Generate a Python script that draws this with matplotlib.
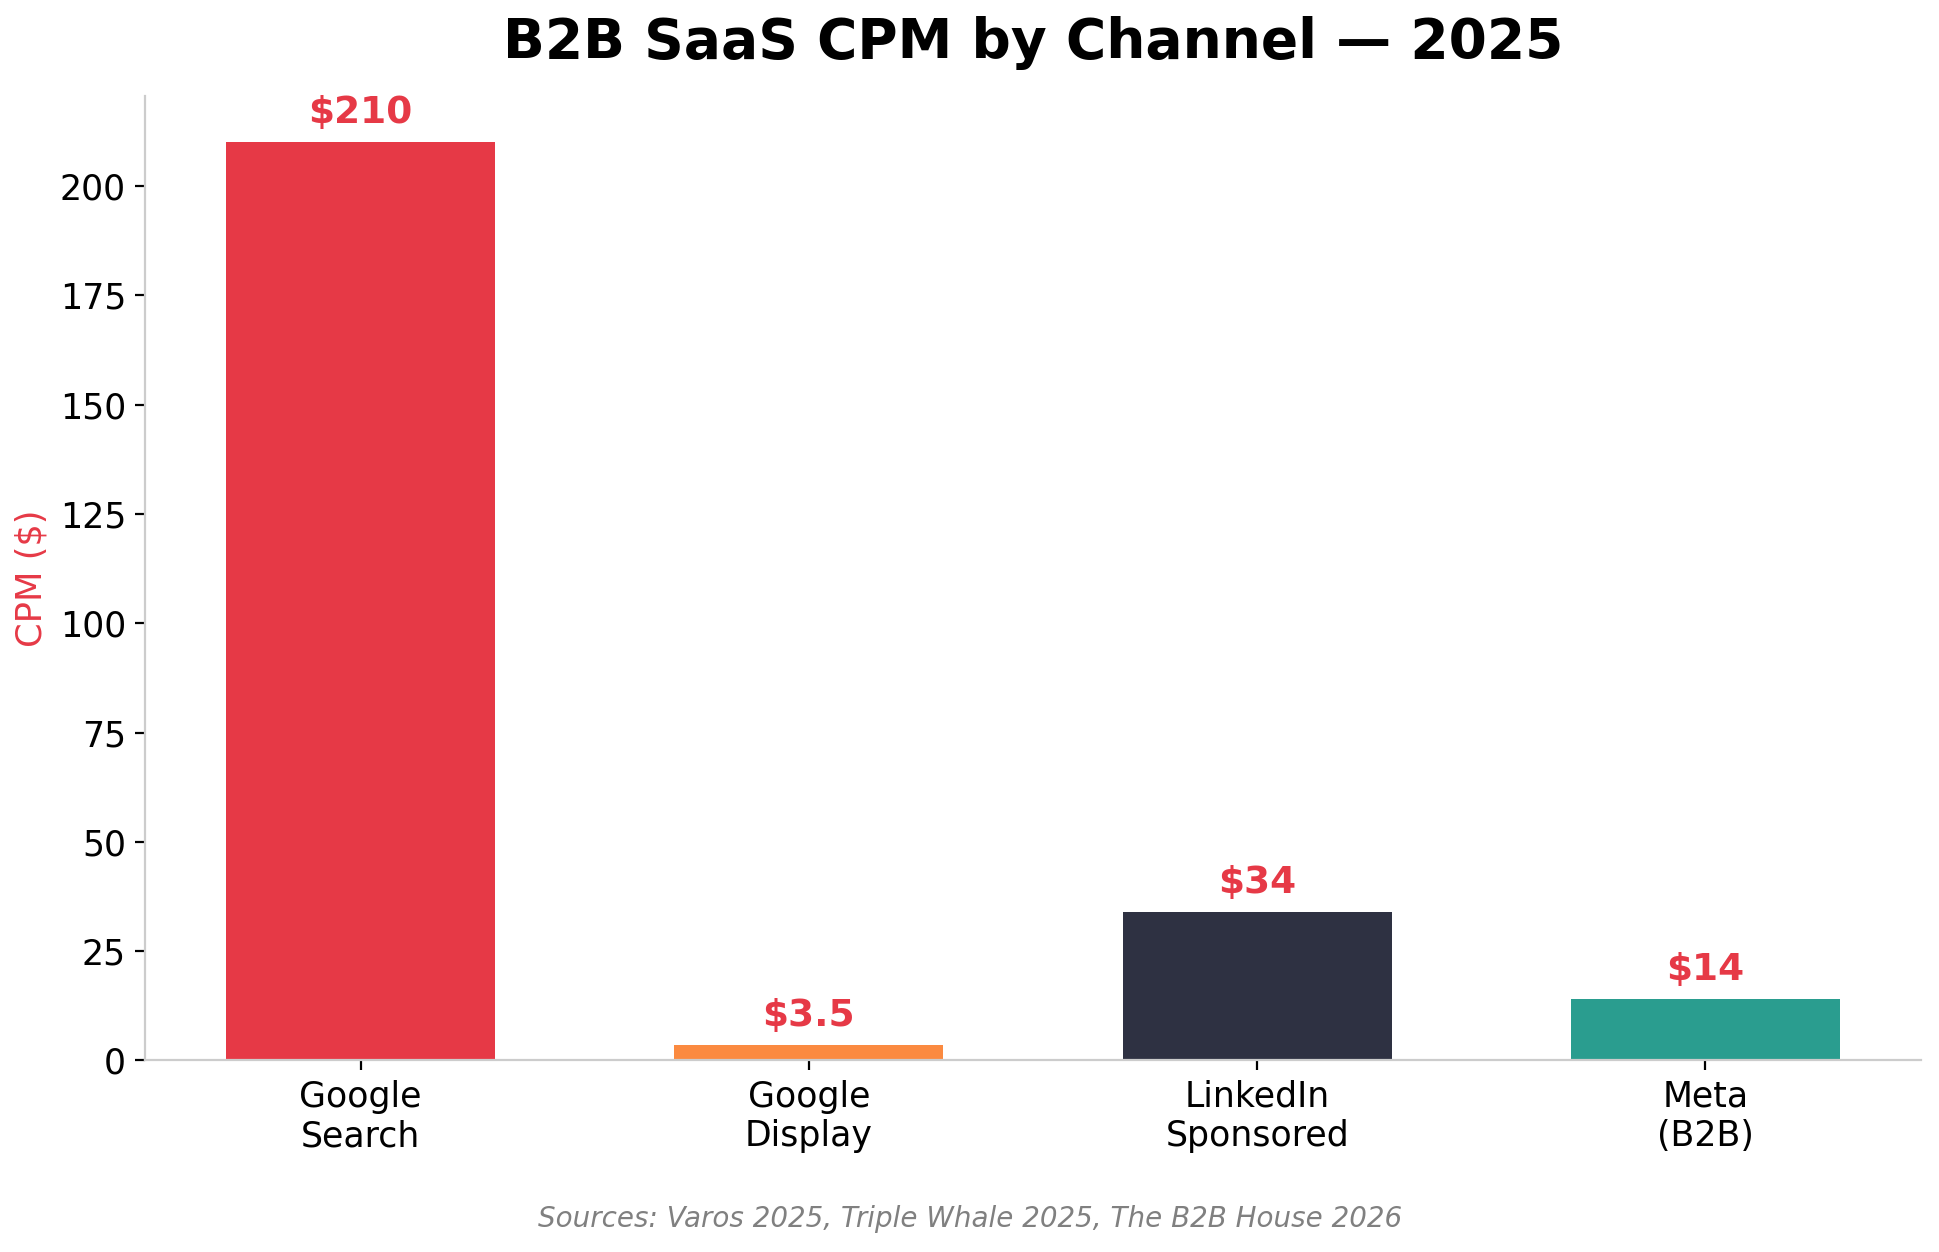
import matplotlib.pyplot as plt

# CPM by channel, 2025
channels = ["Google\nSearch", "Google\nDisplay", "LinkedIn\nSponsored", "Meta\n(B2B)"]
cpm = [210, 3.5, 34, 14]
value_labels = ["$210", "$3.5", "$34", "$14"]
colors = ["#E63946", "#FB8A40", "#2E3142", "#2A9D8F"]

fig = plt.figure(figsize=(9.7, 6.26), dpi=200)
ax = fig.add_axes([0.075, 0.153, 0.915, 0.77])

x = range(len(channels))
ax.bar(x, cpm, width=0.6, color=colors)
ax.set_ylim(0, max(cpm) * 1.05)

for xi, v, lab in zip(x, cpm, value_labels):
    ax.annotate(lab, (xi, v), xytext=(0, 4), textcoords="offset points",
                ha="center", va="bottom", fontsize=13.5, fontweight="bold",
                color="#E63946")

ax.set_xticks(list(x))
ax.set_xticklabels(channels, fontsize=12.5)
ax.tick_params(axis="y", labelsize=12.5)
ax.set_ylabel("CPM ($)", color="#E63946", fontsize=12.7)

for s in ("top", "right"):
    ax.spines[s].set_visible(False)
for s in ("left", "bottom"):
    ax.spines[s].set_color("#CCCCCC")

ax.set_title("B2B SaaS CPM by Channel — 2025", fontsize=19.8, fontweight="bold", pad=14)
fig.text(0.5, 0.026, "Sources: Varos 2025, Triple Whale 2025, The B2B House 2026",
         ha="center", va="center", fontsize=10, style="italic", color="#808080")

fig.savefig("out.png")
